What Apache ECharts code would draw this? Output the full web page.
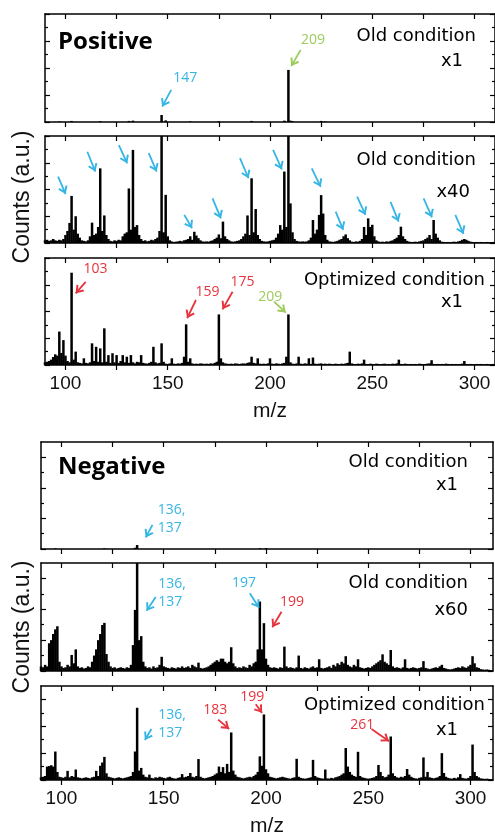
<!DOCTYPE html>
<html><head><meta charset="utf-8">
<script src="https://cdn.jsdelivr.net/npm/echarts@6/dist/echarts.min.js"></script>
<style>html,body{margin:0;padding:0;background:#fff}#c{width:495px;height:838px}</style>
</head><body><div id="c"></div>
<script>
// ---------- DATA ----------
const mzStart = 90;
const xTickValues = [100,125,150,175,200,225,250,275,300];
const xLabelValues = [100,150,200,250,300];

// Positive, old condition x1 (sparse [m/z, counts])
const posOldX1 = [[97,0.02],[103,0.04],[117,0.03],[131,0.04],[133,0.05],[147,0.26],[149,0.06],[161,0.02],[175,0.03],[191,0.04],[207,0.05],[209,1.93],[210,0.05],[211,0.03],[225,0.04],[227,0.02]];

// Positive, old condition x40 (m/z 90..310)
const posOldX40 = [
0.10,0.12,0.08,0.10,0.15,0.10,0.08,0.12,0.10,0.15,
0.30,0.45,0.75,1.76,0.50,1.00,0.35,0.20,0.10,0.08,
0.06,0.10,0.25,0.76,0.30,0.35,0.60,2.79,0.45,1.03,
0.30,0.15,0.08,0.06,0.10,0.08,0.12,0.10,0.25,0.35,
0.40,2.04,0.50,3.48,0.60,0.67,0.30,0.15,0.08,0.10,
0.06,0.08,0.12,0.10,0.15,0.20,0.45,4.10,0.40,1.80,
0.25,0.10,0.06,0.04,0.05,0.06,0.08,0.06,0.10,0.12,
0.15,0.25,0.12,0.42,0.28,0.18,0.10,0.06,0.05,0.06,
0.05,0.08,0.10,0.15,0.20,0.32,0.18,0.80,0.25,0.15,
0.10,0.06,0.05,0.06,0.08,0.10,0.15,0.25,0.35,1.03,
0.30,2.42,0.40,1.27,0.30,0.15,0.08,0.06,0.05,0.06,
0.08,0.10,0.12,0.20,0.35,0.67,0.50,2.67,0.60,4.10,
1.48,0.40,0.15,0.08,0.06,0.05,0.06,0.05,0.06,0.10,
0.20,0.86,0.35,0.50,1.05,1.79,1.10,0.30,0.12,0.06,
0.05,0.04,0.06,0.08,0.12,0.15,0.25,0.32,0.18,0.10,
0.05,0.04,0.06,0.05,0.08,0.15,0.60,0.30,0.92,0.60,
0.68,0.25,0.10,0.06,0.04,0.05,0.04,0.06,0.05,0.08,
0.10,0.15,0.20,0.30,0.61,0.25,0.15,0.08,0.05,0.04,
0.04,0.05,0.04,0.06,0.08,0.10,0.15,0.20,0.30,0.15,
0.86,0.35,0.20,0.10,0.05,0.04,0.03,0.04,0.03,0.04,
0.05,0.04,0.06,0.08,0.12,0.15,0.12,0.08,0.05,0.04,
0.03,0.04,0.03,0.04,0.03,0.03,0.04,0.03,0.03,0.04,0.03];

// Positive, optimized condition x1 (m/z 90..310)
const posOptX1 = [
0.10,0.12,0.15,0.20,0.30,0.40,0.35,1.25,0.45,0.93,
0.35,0.15,0.10,3.45,0.20,0.50,0.10,0.08,0.06,0.25,
0.08,0.06,0.10,0.81,0.15,0.68,0.12,0.62,0.10,1.37,
0.12,0.37,0.08,0.44,0.10,0.37,0.08,0.15,0.37,0.10,
0.31,0.08,0.37,0.10,0.06,0.12,0.10,0.37,0.08,0.06,
0.05,0.08,0.12,0.68,0.10,0.06,0.08,0.81,0.12,0.05,
0.04,0.06,0.25,0.05,0.04,0.06,0.05,0.08,0.31,1.52,
0.12,0.25,0.06,0.04,0.05,0.04,0.06,0.05,0.04,0.05,
0.04,0.06,0.05,0.08,0.12,1.89,0.25,0.10,0.06,0.05,
0.04,0.05,0.04,0.06,0.05,0.04,0.05,0.06,0.05,0.08,
0.10,0.31,0.08,0.06,0.25,0.05,0.04,0.05,0.04,0.06,
0.25,0.05,0.04,0.06,0.05,0.04,0.06,0.08,0.31,1.89,
0.10,0.05,0.04,0.06,0.31,0.05,0.04,0.06,0.05,0.25,
0.04,0.28,0.05,0.04,0.05,0.06,0.04,0.05,0.04,0.05,
0.04,0.03,0.05,0.04,0.03,0.05,0.04,0.06,0.08,0.50,
0.06,0.04,0.03,0.05,0.04,0.06,0.20,0.04,0.03,0.05,
0.04,0.03,0.05,0.04,0.03,0.04,0.05,0.03,0.04,0.03,
0.05,0.04,0.06,0.20,0.04,0.03,0.05,0.04,0.03,0.04,
0.03,0.04,0.03,0.05,0.04,0.03,0.04,0.05,0.06,0.18,
0.04,0.03,0.04,0.03,0.04,0.03,0.05,0.04,0.03,0.04,
0.03,0.04,0.03,0.04,0.05,0.15,0.04,0.03,0.04,0.03,
0.03,0.04,0.03,0.04,0.03,0.03,0.04,0.03,0.03,0.04,0.03];

// Negative, old condition x1 (sparse)
const negOldX1 = [[97,0.02],[121,0.02],[136,0.04],[137,0.13],[197,0.02],[200,0.03]];

// Negative, old condition x60 (m/z 90..310)
const negOldX60 = [
0.15,0.12,0.20,0.15,0.90,1.00,1.20,1.35,1.45,0.30,
0.15,0.10,0.12,0.20,0.15,0.52,0.25,0.70,0.15,0.10,
0.12,0.08,0.10,0.15,0.12,0.30,0.50,0.70,1.00,1.20,
1.49,1.56,0.55,0.30,0.15,0.10,0.12,0.08,0.10,0.12,
0.10,0.08,0.12,0.10,0.20,0.84,1.98,3.60,1.00,1.13,
0.30,0.15,0.10,0.12,0.08,0.15,0.10,0.12,0.20,0.46,
0.15,0.12,0.10,0.08,0.12,0.10,0.08,0.12,0.10,0.15,
0.10,0.12,0.15,0.10,0.20,0.15,0.12,0.27,0.10,0.08,
0.10,0.12,0.15,0.20,0.25,0.30,0.35,0.30,0.40,0.40,
0.30,0.25,0.30,0.77,0.25,0.15,0.10,0.12,0.10,0.15,
0.12,0.10,0.20,0.15,0.25,0.30,0.70,2.25,0.70,1.55,
0.40,0.20,0.12,0.10,0.12,0.10,0.08,0.12,0.10,0.79,
0.15,0.10,0.12,0.10,0.08,0.12,0.50,0.10,0.08,0.12,
0.10,0.08,0.12,0.15,0.10,0.12,0.38,0.10,0.08,0.10,
0.12,0.15,0.10,0.20,0.15,0.25,0.20,0.30,0.25,0.48,
0.20,0.15,0.12,0.20,0.15,0.38,0.12,0.10,0.08,0.10,
0.12,0.10,0.15,0.20,0.25,0.30,0.35,0.54,0.30,0.25,
0.20,0.68,0.15,0.10,0.12,0.10,0.08,0.12,0.38,0.10,
0.08,0.10,0.12,0.10,0.08,0.10,0.12,0.32,0.10,0.08,
0.06,0.08,0.10,0.12,0.10,0.15,0.20,0.10,0.08,0.06,
0.05,0.06,0.08,0.10,0.12,0.10,0.15,0.12,0.10,0.15,
0.20,0.48,0.25,0.12,0.10,0.06,0.05,0.04,0.05,0.04,0.03];

// Negative, optimized condition x1 (m/z 90..310)
const negOptX1 = [
0.10,0.12,0.15,0.50,0.52,0.55,0.50,1.06,0.30,0.12,
0.10,0.08,0.12,0.34,0.10,0.15,0.12,0.39,0.10,0.08,
0.06,0.08,0.10,0.08,0.06,0.10,0.12,0.34,0.15,0.53,
0.65,0.86,0.25,0.12,0.10,0.08,0.06,0.08,0.10,0.08,
0.06,0.08,0.10,0.12,0.15,0.30,1.06,2.69,0.35,0.45,
0.20,0.12,0.10,0.20,0.08,0.06,0.10,0.08,0.12,0.10,
0.08,0.06,0.10,0.12,0.08,0.06,0.05,0.08,0.10,0.22,
0.10,0.12,0.15,0.26,0.12,0.10,0.15,0.78,0.12,0.08,
0.06,0.08,0.10,0.12,0.15,0.20,0.25,0.50,0.30,0.48,
0.25,0.60,0.30,1.77,0.35,0.20,0.12,0.10,0.08,0.06,
0.08,0.10,0.12,0.10,0.15,0.20,0.30,0.88,0.53,2.44,
0.40,0.25,0.12,0.10,0.08,0.06,0.08,0.10,0.12,0.10,
0.08,0.06,0.05,0.08,0.10,0.79,0.12,0.08,0.06,0.05,
0.06,0.08,0.10,0.75,0.15,0.10,0.08,0.06,0.05,0.39,
0.06,0.05,0.08,0.06,0.10,0.12,0.15,0.20,0.25,1.19,
0.50,0.30,0.20,0.15,0.12,1.05,0.15,0.10,0.08,0.06,
0.05,0.06,0.08,0.10,0.15,0.56,0.30,0.15,0.10,0.12,
0.20,1.62,0.25,0.15,0.10,0.08,0.12,0.10,0.15,0.41,
0.20,0.12,0.08,0.06,0.05,0.08,0.10,0.84,0.12,0.30,
0.10,0.08,0.06,0.08,0.10,0.15,1.00,0.26,0.12,0.08,
0.06,0.05,0.08,0.06,0.10,0.22,0.08,0.06,0.05,0.08,
0.15,1.32,0.30,0.15,0.10,0.06,0.05,0.04,0.05,0.04,0.03];

// Annotations: arrows [fromMz, fromCounts, toMz, toCounts, colorKey]
const posArrowsX1 = [[151.7,1.19,147.3,0.57,'c'],[215.0,2.67,210.4,2.07,'g']];
const posLabelsX1 = [[158.6,1.63,'147','c'],[221.0,3.04,'209','g']];
const posArrowsX40 = [[96.4,2.48,100.1,1.83,'c'],[110.7,3.41,114.6,2.67,'c'],[126.1,3.66,130.2,2.98,'c'],[140.7,3.36,144.6,2.67,'c'],[158.1,1.05,161.9,0.55,'c'],[171.9,1.67,176.0,0.92,'c'],[185.3,3.17,189.5,2.42,'c'],[201.5,3.48,205.8,2.75,'c'],[220.4,2.79,224.8,2.10,'c'],[232.1,1.17,235.8,0.49,'c'],[242.6,1.73,246.7,1.05,'c'],[258.9,1.54,262.9,0.80,'c'],[275.1,1.67,279.2,0.96,'c'],[290.6,1.05,294.6,0.34,'c']];
const posArrowsOpt = [[109.9,3.11,105.0,2.68,'r'],[163.8,2.43,159.5,1.75,'r'],[181.7,2.74,176.8,2.08,'r'],[202.0,2.37,207.7,1.96,'g']];
const posLabelsOpt = [[114.7,3.58,'103','r'],[169.5,2.74,'159','r'],[186.6,3.11,'175','r'],[200.1,2.55,'209','g']];
const negArrowsX1 = [[144.5,0.79,141.2,0.38,'c']];
const negLabelsX1 = [[147.1,0.98,'136,\n137','c','left']];
const negArrowsX60 = [[146.1,2.40,141.6,1.95,'c'],[192.1,2.52,196.6,2.05,'c'],[207.6,1.92,203.1,1.42,'r']];
const negLabelsX60 = [[147.3,2.54,'136,\n137','c','left'],[189.2,2.84,'197','c'],[212.7,2.23,'199','r']];
const negArrowsOpt = [[144.0,1.90,140.8,1.49,'c'],[176.6,2.25,182.0,1.90,'r'],[195.0,2.82,198.1,2.50,'r'],[251.6,1.90,260.2,1.44,'r']];
const negLabelsOpt = [[147.3,2.09,'136,\n137','c','left'],[175.2,2.61,'183','r'],[193.3,3.10,'199','r'],[247.1,2.06,'261','r']];

// ---------- CHART ----------
const COLORS = {c:'#36B5E5', r:'#E8333D', g:'#9DCB5C'};
const toPairs = arr => arr.map((v,i)=>[mzStart+i, v]);
const ARROW = 'path://M5,0 L0.5,6.4 L2.0,7.4 L5,3.0 L8.0,7.4 L9.5,6.4 Z M5,-7.4 L5.01,-7.4 Z';

const panels = [
 {top:14, h:108, left:45, right:-2, xMax:310, yMax:4, data:posOldX1, arrows:posArrowsX1, labels:posLabelsX1, showX:false},
 {top:136,h:107, left:45, right:-2, xMax:310, yMax:4, data:toPairs(posOldX40), arrows:posArrowsX40, labels:[], showX:false},
 {top:258,h:107, left:45, right:-2, xMax:310, yMax:4, data:toPairs(posOptX1), arrows:posArrowsOpt, labels:posLabelsOpt, showX:true},
 {top:442,h:107, left:41, right:2, xMax:311, yMax:3.5, data:negOldX1, arrows:negArrowsX1, labels:negLabelsX1, showX:false},
 {top:563,h:108, left:41, right:2, xMax:311, yMax:3.5, data:toPairs(negOldX60), arrows:negArrowsX60, labels:negLabelsX60, showX:false},
 {top:686,h:107, left:41, right:2, xMax:311, yMax:3.5, data:toPairs(negOptX1), arrows:negArrowsOpt, labels:negLabelsOpt, showX:true}
];

const AX = {color:'#000', width:1.5};
const TK = {color:'#000', width:1.2};
const FONT = '"Liberation Sans", Arial, sans-serif';
const grid=[], xAxis=[], yAxis=[], series=[];
panels.forEach((p,i)=>{
  grid.push({left:p.left, right:p.right, top:p.top, height:p.h, containLabel:false});
  const majY=[], minY=[];
  for (let v=0; v<=p.yMax+1e-9; v+=1) majY.push(v);
  for (let v=0.5; v<p.yMax-1e-9; v+=1) minY.push(v);
  xAxis.push({gridIndex:i, type:'value', min:90, max:p.xMax, position:'bottom',
    axisLine:{show:true, onZero:false, lineStyle:AX}, splitLine:{show:false},
    axisTick:{show:true, inside:false, length:5, customValues:xTickValues, lineStyle:TK},
    axisLabel:{show:p.showX, customValues:xLabelValues, fontSize:19, color:'#111', margin:9, fontFamily:FONT},
    name:p.showX?'m/z':'', nameLocation:'middle', nameGap:36, nameTextStyle:{fontSize:21, color:'#111', fontFamily:FONT}});
  xAxis.push({gridIndex:i, type:'value', min:90, max:p.xMax, position:'top',
    axisLine:{show:true, onZero:false, lineStyle:AX}, splitLine:{show:false},
    axisTick:{show:true, inside:true, length:5, customValues:xTickValues, lineStyle:TK},
    axisLabel:{show:false}});
  ['left','right'].forEach(pos=>{
    yAxis.push({gridIndex:i, type:'value', min:0, max:p.yMax, position:pos,
      axisLine:{show:true, onZero:false, lineStyle:AX}, splitLine:{show:false},
      axisTick:{show:true, inside:true, length:5, customValues:majY, lineStyle:TK},
      axisLabel:{show:false}});
    yAxis.push({gridIndex:i, type:'value', min:0, max:p.yMax, position:pos,
      axisLine:{show:false, onZero:false}, splitLine:{show:false},
      axisTick:{show:true, inside:true, length:3, customValues:minY, lineStyle:TK},
      axisLabel:{show:false}});
  });
  series.push({type:'bar', xAxisIndex:2*i, yAxisIndex:4*i, data:p.data, barWidth:2.5,
    itemStyle:{color:'#000'}, silent:true, clip:true, animation:false,
    markLine:{silent:true, animation:false, symbol:['none', ARROW], symbolSize:[10,16],
      label:{show:false},
      data:p.arrows.map(a=>[{coord:[a[0],a[1]], lineStyle:{color:COLORS[a[4]], width:1.8, type:'solid'}},{coord:[a[2],a[3]]}])},
    markPoint:{silent:true, animation:false,
      data:p.labels.map(l=>({coord:[l[0],l[1]], symbol:'circle', symbolSize:0,
        itemStyle:{color:'rgba(0,0,0,0)'},
        label:{show:true, position:'inside', formatter:l[2], color:COLORS[l[3]], fontSize:14, lineHeight:18,
          fontFamily:'"Open Sans", sans-serif', align:l[4]||'center', verticalAlign:'middle'}}))}
  });
});

const condFont = '18px "DejaVu Sans", sans-serif';
const texts = [
  {x:58, y:42, t:'Positive', f:'bold 24px "Open Sans", sans-serif', a:'left'},
  {x:476, y:36, t:'Old condition'}, {x:463, y:61, t:'x1'},
  {x:476, y:160, t:'Old condition'}, {x:470, y:192, t:'x40'},
  {x:485, y:280, t:'Optimized condition'}, {x:463, y:302, t:'x1'},
  {x:58, y:467, t:'Negative', f:'bold 24px "Open Sans", sans-serif', a:'left'},
  {x:468, y:462, t:'Old condition'}, {x:458, y:485, t:'x1'},
  {x:468, y:583, t:'Old condition'}, {x:468, y:610, t:'x60'},
  {x:485, y:705, t:'Optimized condition'}, {x:458, y:730, t:'x1'}
];
const graphic = texts.map(o=>({type:'text', x:o.x, y:o.y, silent:true,
  style:{text:o.t, font:o.f||condFont, fill:'#000', align:o.a||'right', verticalAlign:'middle'}}));
[197, 627].forEach(cy=>graphic.push({type:'text', x:23, y:cy, rotation:Math.PI/2, silent:true,
  style:{text:'Counts (a.u.)', font:'23px "Liberation Sans", Arial, sans-serif', fill:'#111', align:'center', verticalAlign:'middle'}}));

const chart = echarts.init(document.getElementById('c'), null, {renderer:'canvas'});
chart.setOption({animation:false, backgroundColor:'#fff', grid, xAxis, yAxis, series, graphic});
</script></body></html>
